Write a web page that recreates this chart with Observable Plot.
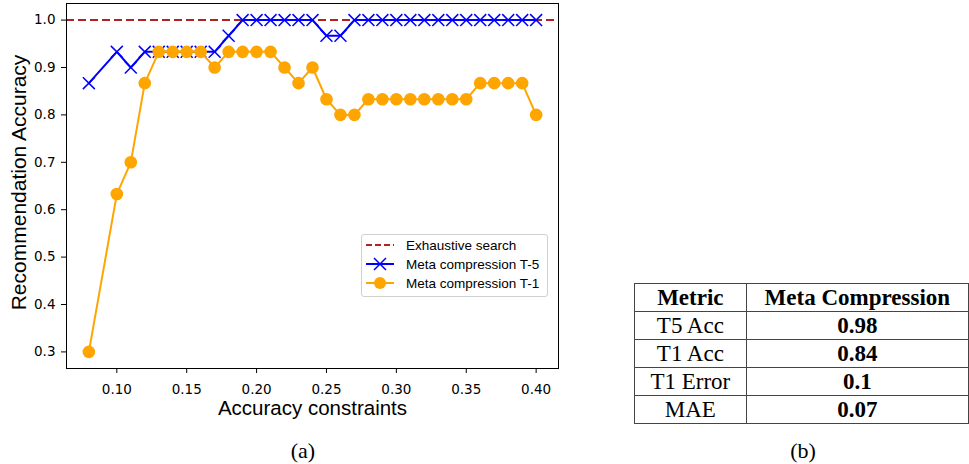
<!DOCTYPE html>
<html>
<head>
<meta charset="utf-8">
<script src="https://cdn.jsdelivr.net/npm/d3@7"></script>
<script src="https://cdn.jsdelivr.net/npm/@observablehq/plot@0.6"></script>
<style>
  body { margin: 0; background: #fff; }
  #wrap { position: relative; width: 969px; height: 464px; overflow: hidden; background: #fff; }
  #chart { position: absolute; left: 0; top: 0; }
  .legend { position: absolute; left: 361px; top: 234px; width: 187px; height: 63px; box-sizing: border-box;
            border: 1px solid #d0d0d0; border-radius: 3px; background: rgba(255,255,255,0.85);
            font-family: "Liberation Sans", Arial, sans-serif; font-size: 13.5px; color: #000; }
  .legend .row { position: absolute; left: 4px; height: 18px; display: flex; align-items: center; white-space: nowrap; }
  .legend svg { margin-right: 12px; }
  table.metrics { position: absolute; left: 634px; top: 283px; border-collapse: collapse;
                  font-family: "Liberation Serif", "Times New Roman", serif; font-size: 23px; color: #000; }
  table.metrics td, table.metrics th { border: 1.3px solid #444; padding: 0; height: 27px; line-height: 24px; text-align: center; }
  table.metrics th { font-weight: bold; }
  table.metrics td.v { font-weight: bold; }
  .cap { position: absolute; width: 80px; text-align: center; font-family: "Liberation Serif", "Times New Roman", serif;
         font-size: 22px; line-height: 24px; top: 439px; color: #000; }
</style>
</head>
<body>
<div id="wrap">
  <div id="chart"></div>
  <div class="legend" id="legend"></div>
  <table class="metrics" id="tbl"></table>
  <div class="cap" id="capA" style="left:263px"></div>
  <div class="cap" id="capB" style="left:763px"></div>
</div>
<script>
// ---- data ----
const constraints = [0.08, 0.10, 0.11, 0.12, 0.13, 0.14, 0.15, 0.16, 0.17, 0.18, 0.19, 0.20, 0.21, 0.22, 0.23, 0.24,
                     0.25, 0.26, 0.27, 0.28, 0.29, 0.30, 0.31, 0.32, 0.33, 0.34, 0.35, 0.36, 0.37, 0.38, 0.39, 0.40];
const metaT5 = [0.867, 0.933, 0.9, 0.933, 0.933, 0.933, 0.933, 0.933, 0.933, 0.967, 1.0, 1.0, 1.0, 1.0, 1.0, 1.0,
                0.967, 0.967, 1.0, 1.0, 1.0, 1.0, 1.0, 1.0, 1.0, 1.0, 1.0, 1.0, 1.0, 1.0, 1.0, 1.0];
const metaT1 = [0.3, 0.633, 0.7, 0.867, 0.933, 0.933, 0.933, 0.933, 0.9, 0.933, 0.933, 0.933, 0.933, 0.9, 0.867, 0.9,
                0.833, 0.8, 0.8, 0.833, 0.833, 0.833, 0.833, 0.833, 0.833, 0.833, 0.833, 0.867, 0.867, 0.867, 0.867, 0.8];
const exhaustive = 1.0;
const xTicks = [0.10, 0.15, 0.20, 0.25, 0.30, 0.35, 0.40];
const yTicks = [0.3, 0.4, 0.5, 0.6, 0.7, 0.8, 0.9, 1.0];
const xLabel = "Accuracy constraints";
const yLabel = "Recommendation Accuracy";
const seriesNames = ["Exhaustive search", "Meta compression T-5", "Meta compression T-1"];
const tableHeader = ["Metric", "Meta Compression"];
const tableMetrics = ["T5 Acc", "T1 Acc", "T1 Error", "MAE"];
const tableValues = ["0.98", "0.84", "0.1", "0.07"];
const captions = ["(a)", "(b)"];

const colors = { exhaustive: "#b22222", t5: "#0000ff", t1: "#ffa500" };

const data = constraints.map((c, i) => ({ c, t5: metaT5[i], t1: metaT1[i] }));

const chart = Plot.plot({
  width: 560,
  height: 464,
  marginLeft: 66,
  marginRight: 2,
  marginTop: 3,
  marginBottom: 96,
  style: { fontFamily: "DejaVu Sans, sans-serif", fontSize: "13.5px", color: "#000", background: "transparent" },
  x: { domain: [0.064, 0.416] },
  y: { domain: [0.265, 1.035] },
  marks: [
    Plot.axisX(xTicks, { tickSize: 5, tickPadding: 11, tickFormat: d => d.toFixed(2), label: null, stroke: "#000" }),
    Plot.axisY(yTicks, { tickSize: 5, tickPadding: 6, tickFormat: d => d.toFixed(1), label: null, stroke: "#000" }),
    Plot.ruleY([exhaustive], { stroke: colors.exhaustive, strokeWidth: 2, strokeDasharray: "8,4" }),
    Plot.line(data, { x: "c", y: "t5", stroke: colors.t5, strokeWidth: 2 }),
    Plot.dot(data, { x: "c", y: "t5", symbol: "times", r: 5.5, stroke: colors.t5, strokeWidth: 1.5 }),
    Plot.line(data, { x: "c", y: "t1", stroke: colors.t1, strokeWidth: 2 }),
    Plot.dot(data, { x: "c", y: "t1", r: 6.3, fill: colors.t1, stroke: "none" }),
    Plot.frame({ stroke: "#000", strokeWidth: 1 }),
    Plot.text([xLabel], { text: d => d, frameAnchor: "bottom", textAnchor: "middle", lineAnchor: "middle", dy: 40,
                          fontSize: 20.5, fontFamily: "Liberation Sans, Arial, sans-serif" }),
    Plot.text([yLabel], { text: d => d, frameAnchor: "left", textAnchor: "middle", lineAnchor: "middle", rotate: -90,
                          dx: -47, dy: -3.5, fontSize: 21, fontFamily: "Liberation Sans, Arial, sans-serif" })
  ]
});
document.getElementById("chart").appendChild(chart);

// ---- legend ----
const legend = document.getElementById("legend");
const handles = [
  `<svg width="28" height="14"><line x1="0" y1="7" x2="28" y2="7" stroke="${colors.exhaustive}" stroke-width="2" stroke-dasharray="6,3"/></svg>`,
  `<svg width="28" height="14"><line x1="0" y1="7" x2="28" y2="7" stroke="${colors.t5}" stroke-width="2"/><path d="M8,1L20,13M8,13L20,1" stroke="${colors.t5}" stroke-width="1.5"/></svg>`,
  `<svg width="28" height="14"><line x1="0" y1="7" x2="28" y2="7" stroke="${colors.t1}" stroke-width="2"/><circle cx="14" cy="7" r="6" fill="${colors.t1}"/></svg>`
];
const rowTops = [1, 20, 39];
seriesNames.forEach((name, i) => {
  const row = document.createElement("div");
  row.className = "row";
  row.style.top = rowTops[i] + "px";
  row.innerHTML = handles[i] + `<span>${name}</span>`;
  legend.appendChild(row);
});

// ---- table ----
const tbl = document.getElementById("tbl");
let html = `<tr><th style="width:113px">${tableHeader[0]}</th><th style="width:226px">${tableHeader[1]}</th></tr>`;
tableMetrics.forEach((m, i) => {
  html += `<tr><td>${m}</td><td class="v">${tableValues[i]}</td></tr>`;
});
tbl.innerHTML = html;

document.getElementById("capA").textContent = captions[0];
document.getElementById("capB").textContent = captions[1];
</script>
</body>
</html>
